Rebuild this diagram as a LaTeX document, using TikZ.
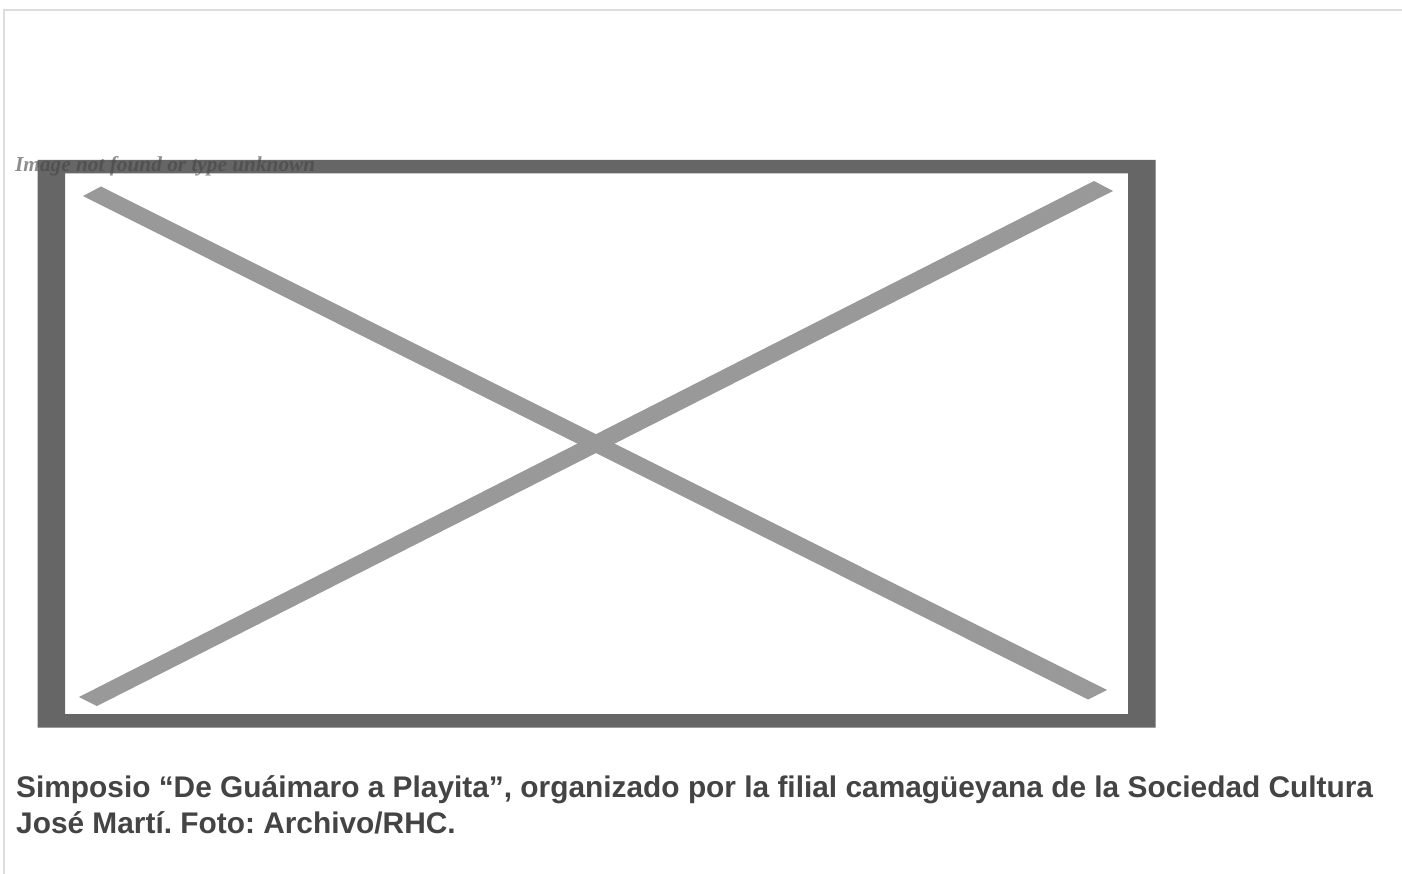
\documentclass[tikz,border=0pt]{standalone}
\usepackage{fontspec}
\setmainfont{Liberation Sans}
\newfontfamily\serifalt{Liberation Serif}
\definecolor{frameg}{HTML}{666666}
\definecolor{crossg}{HTML}{999999}
\definecolor{edgeg}{HTML}{DDDDDD}
\definecolor{captiong}{HTML}{444444}
\frenchspacing
\begin{document}
\begin{tikzpicture}[x=1pt,y=-1pt,
  caption/.style={anchor=base west,inner sep=0pt,font=\fontsize{29.85}{34}\selectfont\bfseries,text=captiong},
  alttext/.style={anchor=base west,inner sep=0pt,font=\fontsize{21.3}{25}\selectfont\serifalt\bfseries\itshape,text=captiong,text opacity=0.6}]
\useasboundingbox (0,0) rectangle (1402,874);
\fill[white] (0,0) rectangle (1402,874);
% page edge
\draw[edgeg,line width=2.4pt] (4,874) -- (4,10) -- (1402,10);
% frame
\fill[frameg,even odd rule] (37.5,160) rectangle (1155.5,727.5) (65,173.5) rectangle (1128,714);
% cross
\fill[crossg] (83,196) -- (101,186.5) -- (1107,690) -- (1088,699.5) -- cycle;
\fill[crossg] (1094,181) -- (1113,191) -- (97,706) -- (79,697) -- cycle;
% texts
\node[alttext] (alt) at (15,171.5) {Image not found or type unknown};
\node[caption] (capa) at (16,797.3) {Simposio “De Guáimaro a Playita”, organizado por la filial camagüeyana de la Sociedad Cultura};
\node[caption] (capb) at (16,833) {José Martí. Foto: Archivo/RHC.};
\end{tikzpicture}
\end{document}
